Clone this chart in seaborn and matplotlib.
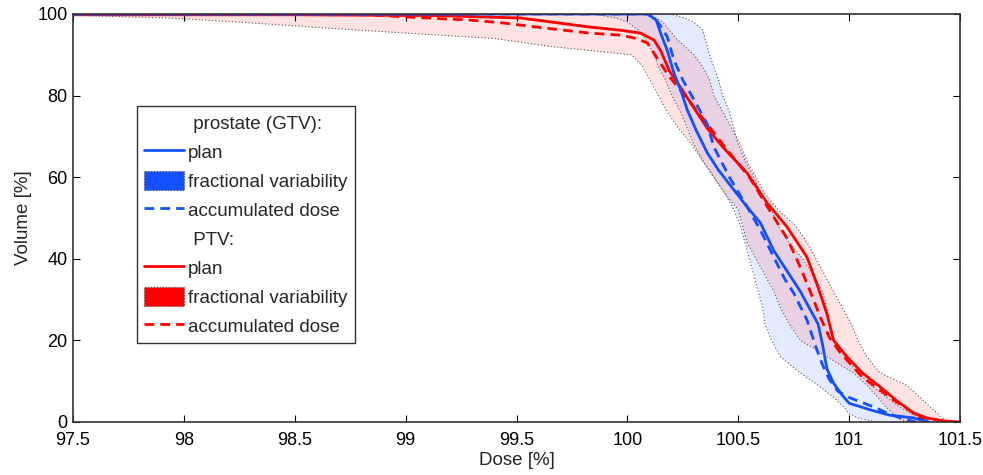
import seaborn as sns
import pandas as pd
import matplotlib.pyplot as plt
from matplotlib.lines import Line2D
from matplotlib.patches import Patch

# volume levels used for the variability bands
band_vol = [100, 99, 98, 96, 94, 92, 90, 87, 84, 80, 76, 72, 68, 64, 60, 56, 52,
            48, 44, 40, 36, 32, 28, 24, 20, 16, 12, 9, 6, 4, 2, 1, 0]

# prostate (GTV) fractional variability: min / max dose at each volume level
gtv_low = [99.85, 99.95, 100.0, 100.05, 100.08, 100.1, 100.12, 100.14, 100.17, 100.2, 100.24,
           100.27, 100.3, 100.34, 100.39, 100.44, 100.48, 100.51, 100.53, 100.55, 100.57,
           100.59, 100.61, 100.62, 100.65, 100.69, 100.78, 100.86, 100.93, 100.97, 101.0,
           101.04, 101.12]
gtv_high = [100.19, 100.26, 100.3, 100.34, 100.35, 100.36, 100.37, 100.39, 100.41, 100.43,
            100.46, 100.48, 100.5, 100.53, 100.57, 100.6, 100.65, 100.68, 100.73, 100.79,
            100.84, 100.88, 100.9, 100.91, 100.93, 100.98, 101.04, 101.1, 101.17, 101.22,
            101.28, 101.32, 101.36]

# PTV fractional variability
ptv_low = [97.3, 97.94, 98.25, 98.8, 99.4, 99.66, 100.02, 100.07, 100.1, 100.14, 100.18,
           100.23, 100.29, 100.34, 100.39, 100.44, 100.5, 100.52, 100.54, 100.58, 100.62,
           100.66, 100.69, 100.73, 100.78, 100.9, 101.02, 101.08, 101.13, 101.16, 101.2,
           101.22, 101.26]
ptv_high = [100.1, 100.13, 100.16, 100.19, 100.22, 100.26, 100.3, 100.34, 100.37, 100.39,
            100.43, 100.47, 100.51, 100.54, 100.58, 100.62, 100.68, 100.76, 100.81, 100.85,
            100.89, 100.93, 100.97, 101.01, 101.04, 101.08, 101.14, 101.26, 101.32, 101.36,
            101.4, 101.42, 101.45]

# DVH curves
gtv_plan_dose = [97.5, 100.09, 100.13, 100.15, 100.18, 100.21, 100.24, 100.27, 100.31, 100.36,
                 100.41, 100.48, 100.54, 100.6, 100.66, 100.72, 100.78, 100.83, 100.86, 100.88,
                 100.9, 100.93, 100.97, 101.0, 101.1, 101.18, 101.29, 101.36]
gtv_plan_vol = [100, 100, 98.5, 95.3, 91, 85.5, 81.4, 76.5, 71.5, 66, 61.8, 56.9, 52.7, 48.8,
                42, 37, 32, 27, 24, 19, 13, 9.5, 6.5, 4.6, 2.9, 1.7, 1, 0]

gtv_acc_dose = [97.5, 100.11, 100.15, 100.18, 100.21, 100.25, 100.3, 100.36, 100.39, 100.46,
                100.54, 100.6, 100.66, 100.71, 100.75, 100.81, 100.85, 100.88, 100.91, 100.95,
                101.0, 101.11, 101.18, 101.24, 101.3]
gtv_acc_vol = [100, 100, 97, 94.4, 88.7, 83.8, 79, 73, 67.4, 60, 52.7, 47, 40.4, 35, 31.6, 25,
               18.4, 14, 10.5, 7.5, 6, 3.7, 2, 0.8, 0]

ptv_plan_dose = [97.5, 98.5, 99.14, 99.52, 99.66, 99.83, 99.97, 100.06, 100.12, 100.15, 100.19,
                 100.24, 100.3, 100.36, 100.43, 100.54, 100.63, 100.72, 100.81, 100.86, 100.9,
                 100.93, 100.99, 101.06, 101.14, 101.21, 101.29, 101.35, 101.42, 101.5]
ptv_plan_vol = [99.8, 99.8, 99.6, 99, 98, 96.8, 96, 95.3, 93.6, 91, 86, 82, 77, 72, 67.4, 61,
                53.7, 47.8, 40.4, 33, 26.5, 20, 16, 12, 8.6, 5.4, 2.2, 1, 0.3, 0]

ptv_acc_dose = [97.5, 98.84, 98.99, 99.29, 99.44, 99.62, 99.83, 99.97, 100.04, 100.09, 100.13,
                100.19, 100.25, 100.31, 100.37, 100.46, 100.55, 100.64, 100.72, 100.76, 100.81,
                100.87, 100.91, 100.96, 101.06, 101.2, 101.32, 101.45]
ptv_acc_vol = [100, 99.8, 99.3, 98.5, 97.8, 96.6, 95.3, 94.8, 94, 92.9, 89.5, 84.6, 80.6, 76.5,
               72.3, 66, 60, 52, 45, 40.4, 34, 25.7, 20.8, 17, 11, 5.4, 1.2, 0]

x_ticks = [97.5, 98, 98.5, 99, 99.5, 100, 100.5, 101, 101.5]
y_ticks = [0, 20, 40, 60, 80, 100]

BLUE = "#1450ff"
RED = "#ff0000"
DASH = (0, (3.5, 2.2))

sns.set_style("ticks")
plt.rcParams['font.family'] = ['Liberation Sans', 'DejaVu Sans']

fig = plt.figure(figsize=(9.83, 4.75), dpi=100)
ax = fig.add_axes([0.0743, 0.1116, 0.9023, 0.859])

# variability bands
ax.fill_betweenx(band_vol, gtv_low, gtv_high, color=BLUE, alpha=0.11, lw=0)
ax.fill_betweenx(band_vol, ptv_low, ptv_high, color=RED, alpha=0.11, lw=0)
for edge in [gtv_low, gtv_high, ptv_low, ptv_high]:
    ax.plot(edge, band_vol, ls=(0, (1, 2)), color="0.35", lw=0.8)

curves = pd.concat([
    pd.DataFrame({"dose": gtv_plan_dose, "vol": gtv_plan_vol, "curve": "gtv_plan"}),
    pd.DataFrame({"dose": gtv_acc_dose, "vol": gtv_acc_vol, "curve": "gtv_acc"}),
    pd.DataFrame({"dose": ptv_plan_dose, "vol": ptv_plan_vol, "curve": "ptv_plan"}),
    pd.DataFrame({"dose": ptv_acc_dose, "vol": ptv_acc_vol, "curve": "ptv_acc"}),
])
styles = {"gtv_plan": (BLUE, "-"), "gtv_acc": (BLUE, DASH),
          "ptv_plan": (RED, "-"), "ptv_acc": (RED, DASH)}
for name in ["ptv_acc", "ptv_plan", "gtv_acc", "gtv_plan"]:
    sub = curves[curves["curve"] == name]
    c, ls = styles[name]
    sns.lineplot(data=sub, x="dose", y="vol", sort=False, estimator=None,
                 color=c, lw=2, ax=ax)
    ax.lines[-1].set_linestyle(ls)

ax.set_xlim(97.5, 101.5)
ax.set_ylim(0, 100)
ax.set_xticks(x_ticks)
ax.set_xticklabels([f"{t:g}" for t in x_ticks])
ax.set_yticks(y_ticks)
ax.tick_params(direction="in", length=5, width=0.8, top=True, right=True,
               labelsize=13, colors="black")
ax.tick_params(axis="x", pad=7.5)
ax.tick_params(axis="y", pad=4)
for s in ax.spines.values():
    s.set_linewidth(1.2)
    s.set_color("0.2")
ax.set_xlabel("Dose [%]", fontsize=13.5, labelpad=2)
ax.set_ylabel("Volume [%]", fontsize=13.5, labelpad=4)

blank = Line2D([], [], color="none")
handles = [blank,
           Line2D([], [], color=BLUE, lw=2),
           Patch(facecolor=BLUE, edgecolor="0.3", ls=":", lw=0.8),
           Line2D([], [], color=BLUE, lw=2, ls=DASH),
           blank,
           Line2D([], [], color=RED, lw=2),
           Patch(facecolor=RED, edgecolor="0.3", ls=":", lw=0.8),
           Line2D([], [], color=RED, lw=2, ls=DASH)]
labels = [" prostate (GTV):", "plan", "fractional variability", "accumulated dose",
          " PTV:", "plan", "fractional variability", "accumulated dose"]
leg = ax.legend(handles, labels, loc="upper left", bbox_to_anchor=(0.072, 0.775),
                fontsize=13.5, frameon=True, fancybox=False, edgecolor="0.2",
                framealpha=1, handlelength=2.15, handleheight=1.15, handletextpad=0.2,
                labelspacing=0.5, borderpad=0.38, borderaxespad=0)
leg.get_frame().set_linewidth(1.0)

fig.savefig("out.png", dpi=100)
